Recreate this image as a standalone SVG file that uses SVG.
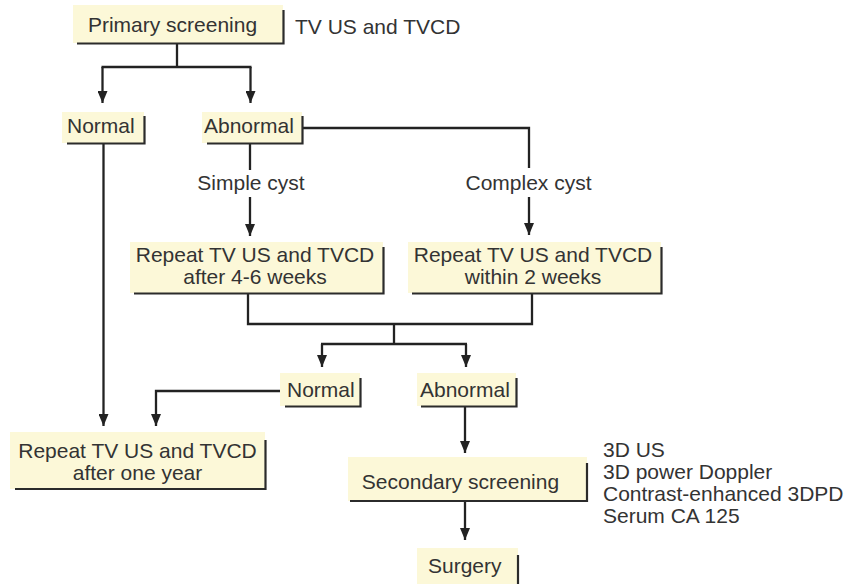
<svg xmlns="http://www.w3.org/2000/svg" width="848" height="584" viewBox="0 0 848 584">
<defs>
<style>
.box{fill:#fcf8d8;stroke:none}
.sh{fill:none;stroke:#2b2b2b;stroke-width:2.2}
.t{font-family:"Liberation Sans",Arial,sans-serif;font-size:21px;fill:#333333}
.m{text-anchor:middle}
.c{fill:none;stroke:#222222;stroke-width:2.3}
</style>
<marker id="arr" markerUnits="userSpaceOnUse" markerWidth="12" markerHeight="10" viewBox="0 0 12 10" refX="12" refY="5" orient="auto">
<path d="M0,0 L12,5 L0,10 z" fill="#222222"/>
</marker>
</defs>
<rect width="848" height="584" fill="#ffffff"/>
<g id="connectors">
<path class="c" d="M177,44 V67 M101.5,67 H251.5"/>
<path class="c" d="M102.5,67 V103" marker-end="url(#arr)"/>
<path class="c" d="M250.5,67 V103" marker-end="url(#arr)"/>
<path class="c" d="M103.5,144 V426" marker-end="url(#arr)"/>
<path class="c" d="M250,144 V170"/>
<path class="c" d="M250,197 V236" marker-end="url(#arr)"/>
<path class="c" d="M302.5,128 H529 V168"/>
<path class="c" d="M529,197 V235" marker-end="url(#arr)"/>
<path class="c" d="M248,294 V324 H532 V294 M394,324 V344 M321,344 H467"/>
<path class="c" d="M322,344 V367" marker-end="url(#arr)"/>
<path class="c" d="M466,344 V367" marker-end="url(#arr)"/>
<path class="c" d="M280,391 H156 V426" marker-end="url(#arr)"/>
<path class="c" d="M465,406 V453" marker-end="url(#arr)"/>
<path class="c" d="M465,501 V540" marker-end="url(#arr)"/>
</g>
<g id="n-primary">
<rect class="box" x="73" y="5" width="210" height="38"/>
<path class="sh" d="M77,43.5 H283.5 V10"/>
<text class="t m" x="172.5" y="32">Primary screening</text>
</g>
<g id="l-primary">
<text class="t" x="295" y="34">TV US and TVCD</text>
</g>
<g id="n-normal1">
<rect class="box" x="62" y="112" width="82" height="31"/>
<path class="sh" d="M67,143.5 H144.5 V116"/>
<text class="t" x="67" y="133">Normal</text>
</g>
<g id="n-abnormal1">
<rect class="box" x="202" y="112" width="100" height="31"/>
<path class="sh" d="M207,143.5 H302.5 V116"/>
<text class="t" x="204" y="133">Abnormal</text>
</g>
<g id="l-simple">
<text class="t m" x="251" y="190">Simple cyst</text>
</g>
<g id="l-complex">
<text class="t m" x="528.5" y="190">Complex cyst</text>
</g>
<g id="n-repeat1">
<rect class="box" x="130" y="242" width="253" height="51"/>
<path class="sh" d="M134,293.5 H383.5 V247"/>
<text class="t m" x="255" y="262">Repeat TV US and TVCD</text>
<text class="t m" x="255" y="284">after 4-6 weeks</text>
</g>
<g id="n-repeat2">
<rect class="box" x="408" y="242" width="253" height="51"/>
<path class="sh" d="M412,293.5 H661.5 V247"/>
<text class="t m" x="533" y="262">Repeat TV US and TVCD</text>
<text class="t m" x="533" y="284">within 2 weeks</text>
</g>
<g id="n-normal2">
<rect class="box" x="280" y="373" width="80" height="33"/>
<path class="sh" d="M285,406.5 H360.5 V378"/>
<text class="t" x="287" y="397">Normal</text>
</g>
<g id="n-abnormal2">
<rect class="box" x="417" y="373" width="99" height="33"/>
<path class="sh" d="M421,406.5 H516.5 V378"/>
<text class="t" x="420" y="397">Abnormal</text>
</g>
<g id="n-repeat3">
<rect class="box" x="10" y="432" width="255" height="57"/>
<path class="sh" d="M15,489 H265.5 V440"/>
<text class="t m" x="137.5" y="458">Repeat TV US and TVCD</text>
<text class="t m" x="137.5" y="480">after one year</text>
</g>
<g id="n-secondary">
<rect class="box" x="348" y="457" width="239" height="44"/>
<path class="sh" d="M350,501 H587 V463"/>
<text class="t m" x="460.5" y="489">Secondary screening</text>
</g>
<g id="l-secondary">
<text class="t" x="603" y="457">3D US</text>
<text class="t" x="603" y="479">3D power Doppler</text>
<text class="t" x="603" y="501">Contrast-enhanced 3DPD</text>
<text class="t" x="603" y="523">Serum CA 125</text>
</g>
<g id="n-surgery">
<rect class="box" x="417" y="548" width="101" height="36"/>
<path class="sh" d="M518,555 V584"/>
<text class="t" x="428" y="573">Surgery</text>
</g>
</svg>
